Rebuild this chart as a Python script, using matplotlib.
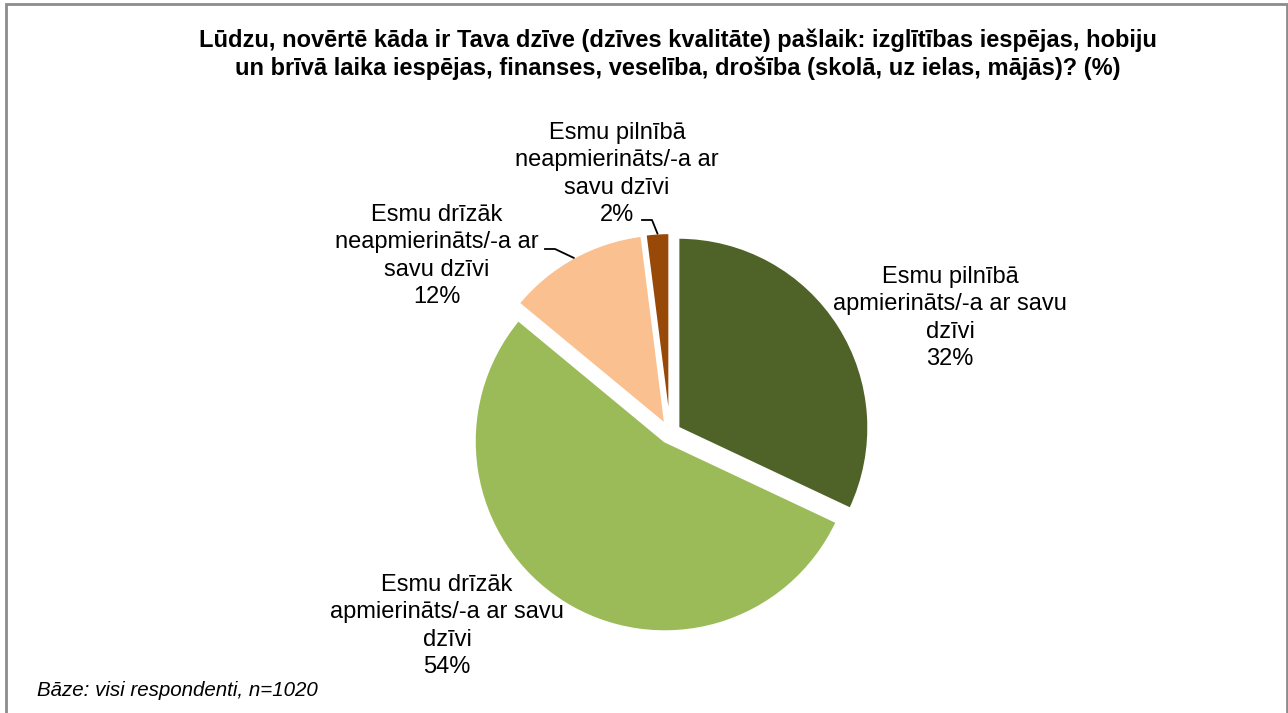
import numpy as np
import matplotlib
matplotlib.use("Agg")
import matplotlib.pyplot as plt
from matplotlib.patches import Rectangle

plt.rcParams['font.family'] = ['Liberation Sans', 'DejaVu Sans']

# ------------------- Data -------------------
labels = [
    "Esmu pilnībā\napmierināts/-a ar savu\ndzīvi",
    "Esmu drīzāk\napmierināts/-a ar savu\ndzīvi",
    "Esmu drīzāk\nneapmierināts/-a ar\nsavu dzīvi",
    "Esmu pilnībā\nneapmierināts/-a ar\nsavu dzīvi",
]
values = [32, 54, 12, 2]
colors = ['#4F6228', '#9BBB59', '#FAC090', '#984807']

title = ("Lūdzu, novērtē kāda ir Tava dzīve (dzīves kvalitāte) pašlaik: izglītības iespējas, hobiju\n"
         "un brīvā laika iespējas, finanses, veselība, drošība (skolā, uz ielas, mājās)? (%)")
footnote = "Bāze: visi respondenti, n=1020"

# ------------------- Layout (pixels, y measured from top) -------------------
W, H = 1288, 713
center = (670, 433)
radius = 190
label_pos = [(950, 318), (447, 626), (437, 256), (617, 174)]
leader_start = [None, None, (545, 249), (642, 220)]

fig = plt.figure(figsize=(W / 100, H / 100), dpi=100)
ax = fig.add_axes([0, 0, 1, 1])

# explode is in data units here (radius is in pixels)
wedges, _ = ax.pie(values, colors=colors, startangle=90, counterclock=False,
                   center=(center[0], H - center[1]), radius=radius,
                   explode=[0.052 * radius] * len(values),
                   wedgeprops=dict(edgecolor='white', linewidth=1.5))
ax.set_xlim(0, W)
ax.set_ylim(0, H)
ax.set_aspect('equal')
ax.axis('off')

for w, lab, v, (lx, ly), ls in zip(wedges, labels, values, label_pos, leader_start):
    ax.text(lx, H - ly, f"{lab}\n{v}%", ha='center', va='center',
            fontsize=17, linespacing=1.3, color='black')
    if ls is not None:
        mid = np.deg2rad((w.theta1 + w.theta2) / 2)
        cx, cy = w.center
        tx = cx + w.r * np.cos(mid)
        ty = cy + w.r * np.sin(mid)
        sx, sy = ls[0], H - ls[1]
        ax.plot([sx, sx + 10, tx], [sy, sy, ty], color='black', lw=1.3)

fig.text(678 / W, 1 - 54 / H, title, ha='center', va='center',
         fontsize=17, fontweight='bold', linespacing=1.22)
fig.text(37 / W, 1 - 690 / H, footnote, ha='left', va='center',
         fontsize=14.8, style='italic')

fig.patches.append(Rectangle((6 / W, -0.05), 1281 / W, 1.05 - 4 / H,
                             transform=fig.transFigure, fill=False,
                             edgecolor='#8c8c8c', linewidth=2))

fig.savefig("out.png", dpi=100)
